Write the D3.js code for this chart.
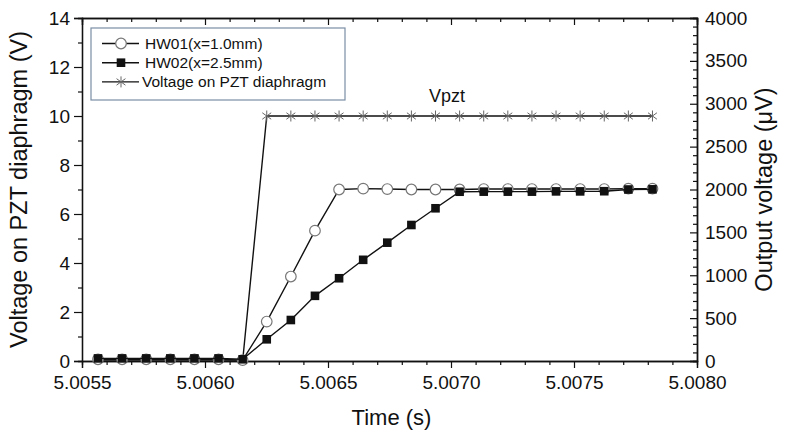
<!DOCTYPE html>
<html>
<head>
<meta charset="utf-8">
<script src="https://cdn.jsdelivr.net/npm/d3@7/dist/d3.min.js"></script>
<style>
  body { margin: 0; background: #fff; }
  svg text { font-family: "Liberation Sans", Arial, sans-serif; fill: #111; }
</style>
</head>
<body>
<div id="chart"></div>
<script>
// data
const times = [5.005565, 5.005663, 5.005761, 5.005859, 5.005957, 5.006055, 5.006153, 5.006251,
  5.006349, 5.006447, 5.006545, 5.006643, 5.006741, 5.006839, 5.006937, 5.007035,
  5.007133, 5.007231, 5.007329, 5.007427, 5.007525, 5.007623, 5.007721, 5.007819]
// output voltage (uV), right axis
const hw01 = [20, 20, 20, 20, 20, 20, 10, 460, 985, 1520, 2000, 2010, 2005, 2000, 2000, 2000,
  2005, 2005, 2005, 2005, 2005, 2005, 2010, 2010]
const hw02 = [30, 30, 30, 30, 30, 30, 20, 253, 478, 760, 965, 1180, 1380, 1586, 1781, 1974,
  1975, 1975, 1975, 1978, 1978, 1980, 2000, 2002]
// PZT voltage (V), left axis
const vpzt = [0, 0, 0, 0, 0, 0, 0, 10, 10, 10, 10, 10, 10, 10, 10, 10,
  10, 10, 10, 10, 10, 10, 10, 10]

const xMajor = [5.0055, 5.0060, 5.0065, 5.0070, 5.0075, 5.0080]
const xMinor = [5.0056, 5.0057, 5.0058, 5.0059, 5.0061, 5.0062, 5.0063, 5.0064, 5.0066, 5.0067,
  5.0068, 5.0069, 5.0071, 5.0072, 5.0073, 5.0074, 5.0076, 5.0077, 5.0078, 5.0079]
const leftMajor = [0, 2, 4, 6, 8, 10, 12, 14]
const leftMinor = [1, 3, 5, 7, 9, 11, 13]
const rightMajor = [0, 500, 1000, 1500, 2000, 2500, 3000, 3500, 4000]
const rightMinor = [100, 200, 300, 400, 600, 700, 800, 900, 1100, 1200, 1300, 1400,
  1600, 1700, 1800, 1900, 2100, 2200, 2300, 2400, 2600, 2700, 2800, 2900,
  3100, 3200, 3300, 3400, 3600, 3700, 3800, 3900]

const legendItems = ["HW01(x=1.0mm)", "HW02(x=2.5mm)", "Voltage on PZT diaphragm"]

const width = 794, height = 433
const margin = {top: 18, right: 97, bottom: 72, left: 82}

const svg = d3.select("#chart").append("svg")
    .attr("width", width)
    .attr("height", height)

const x = d3.scaleLinear()
    .domain([5.0055, 5.0080])
    .range([margin.left, width - margin.right])
const yL = d3.scaleLinear()
    .domain([0, 14])
    .range([height - margin.bottom, margin.top])
const yR = d3.scaleLinear()
    .domain([0, 4000])
    .range([height - margin.bottom, margin.top])

const plotBottom = height - margin.bottom
const plotRight = width - margin.right

// axes
function styleAxis(g) {
  g.select(".domain").attr("stroke", "#111").attr("stroke-width", 1.3)
  g.selectAll(".tick line").attr("stroke", "#111").attr("stroke-width", 1.2)
  g.selectAll(".tick text").style("font-size", "19px")
}

// bottom
svg.append("g")
    .attr("transform", `translate(0,${plotBottom})`)
    .call(d3.axisBottom(x).tickValues(xMajor).tickFormat(d3.format(".4f")).tickSizeOuter(0).tickSize(7).tickPadding(7.5))
    .call(styleAxis)
    .call(g => g.selectAll(".tick line").attr("y2", 7))
svg.append("g")
    .attr("transform", `translate(0,${plotBottom})`)
    .call(d3.axisBottom(x).tickValues(xMinor).tickFormat("").tickSizeOuter(0).tickSize(4))
    .call(styleAxis)

// top (ticks inward)
svg.append("g")
    .attr("transform", `translate(0,${margin.top})`)
    .call(d3.axisBottom(x).tickValues(xMajor).tickFormat("").tickSizeOuter(0).tickSize(7))
    .call(styleAxis)
svg.append("g")
    .attr("transform", `translate(0,${margin.top})`)
    .call(d3.axisBottom(x).tickValues(xMinor).tickFormat("").tickSizeOuter(0).tickSize(4))
    .call(styleAxis)

// left
svg.append("g")
    .attr("transform", `translate(${margin.left},0)`)
    .call(d3.axisLeft(yL).tickValues(leftMajor).tickSizeOuter(0).tickSize(8).tickPadding(4))
    .call(styleAxis)
svg.append("g")
    .attr("transform", `translate(${margin.left},0)`)
    .call(d3.axisLeft(yL).tickValues(leftMinor).tickFormat("").tickSizeOuter(0).tickSize(4))
    .call(styleAxis)

// right (ticks inward)
svg.append("g")
    .attr("transform", `translate(${plotRight},0)`)
    .call(d3.axisLeft(yR).tickValues(rightMajor).tickFormat("").tickSizeOuter(0).tickSize(7))
    .call(styleAxis)
svg.append("g")
    .attr("transform", `translate(${plotRight},0)`)
    .call(d3.axisLeft(yR).tickValues(rightMinor).tickFormat("").tickSizeOuter(0).tickSize(4))
    .call(styleAxis)
svg.append("g")
    .attr("transform", `translate(${plotRight},0)`)
    .call(d3.axisRight(yR).tickValues(rightMajor).tickFormat(d3.format("d")).tickSize(0).tickPadding(8))
    .call(styleAxis)

// axis titles
svg.append("text")
    .attr("x", (margin.left + plotRight) / 2 + 2)
    .attr("y", 425)
    .attr("text-anchor", "middle")
    .style("font-size", "22px")
    .text("Time (s)")
svg.append("text")
    .attr("transform", `translate(27,${(margin.top + plotBottom) / 2}) rotate(-90)`)
    .attr("text-anchor", "middle")
    .style("font-size", "23.5px")
    .text("Voltage on PZT diaphragm (V)")
svg.append("text")
    .attr("transform", `translate(772,${(margin.top + plotBottom) / 2}) rotate(-90)`)
    .attr("text-anchor", "middle")
    .style("font-size", "23.5px")
    .text("Output voltage (\u03bcV)")

// marker helpers
const starPath = (r) => {
  const c = r * Math.cos(Math.PI / 5), s = r * Math.sin(Math.PI / 5)
  return `M0,${-r}L0,${r}M${-c},${-s}L${c},${s}M${-c},${s}L${c},${-s}`
}
function drawStar(g) {
  g.append("path").attr("d", starPath(5.5)).attr("stroke", "#666").attr("stroke-width", 1).attr("fill", "none")
}
function drawCircle(g) {
  g.append("circle").attr("r", 5.3).attr("fill", "#fff").attr("stroke", "#777").attr("stroke-width", 1.2)
}
function drawSquare(g) {
  g.append("rect").attr("x", -4.3).attr("y", -4.3).attr("width", 8.6).attr("height", 8.6).attr("fill", "#111")
}

const dataV = times.map((t, i) => ({t, v: vpzt[i]}))
const data1 = times.map((t, i) => ({t, v: hw01[i]}))
const data2 = times.map((t, i) => ({t, v: hw02[i]}))

// Vpzt series
svg.append("path")
    .datum(dataV)
    .attr("fill", "none")
    .attr("stroke", "#111")
    .attr("stroke-width", 1.4)
    .attr("d", d3.line().x(d => x(d.t)).y(d => yL(d.v)))
svg.selectAll(".star")
  .data(dataV.filter(d => d.v > 0))
  .join("g")
    .attr("class", "star")
    .attr("transform", d => `translate(${x(d.t)},${yL(d.v)})`)
    .each(function() { drawStar(d3.select(this)) })

// HW01
svg.append("path")
    .datum(data1)
    .attr("fill", "none")
    .attr("stroke", "#111")
    .attr("stroke-width", 1.4)
    .attr("d", d3.line().x(d => x(d.t)).y(d => yR(d.v)))
svg.selectAll(".circ")
  .data(data1)
  .join("g")
    .attr("class", "circ")
    .attr("transform", d => `translate(${x(d.t)},${yR(d.v)})`)
    .each(function() { drawCircle(d3.select(this)) })

// HW02
svg.append("path")
    .datum(data2)
    .attr("fill", "none")
    .attr("stroke", "#111")
    .attr("stroke-width", 1.4)
    .attr("d", d3.line().x(d => x(d.t)).y(d => yR(d.v)))
svg.selectAll(".sq")
  .data(data2)
  .join("g")
    .attr("class", "sq")
    .attr("transform", d => `translate(${x(d.t)},${yR(d.v)})`)
    .each(function() { drawSquare(d3.select(this)) })

// Vpzt annotation
svg.append("text")
    .attr("x", 447)
    .attr("y", 102)
    .attr("text-anchor", "middle")
    .style("font-size", "18px")
    .text("Vpzt")

// legend
const legend = svg.append("g").attr("transform", "translate(91,28)")
legend.append("rect")
    .attr("width", 254)
    .attr("height", 72)
    .attr("fill", "#fff")
    .attr("stroke", "#7a8ea4")
    .attr("stroke-width", 1.2)
const drawers = [drawCircle, drawSquare, drawStar]
legendItems.forEach((name, i) => {
  const row = legend.append("g").attr("transform", `translate(0,${15.5 + i * 19.2})`)
  row.append("line").attr("x1", 11).attr("x2", 48).attr("stroke", "#111").attr("stroke-width", 1.4)
  drawers[i](row.append("g").attr("transform", "translate(30,0)"))
  row.append("text")
      .attr("x", i === 2 ? 51 : 54)
      .attr("dy", "0.36em")
      .style("font-size", "15.5px")
      .text(name)
})
</script>
</body>
</html>
